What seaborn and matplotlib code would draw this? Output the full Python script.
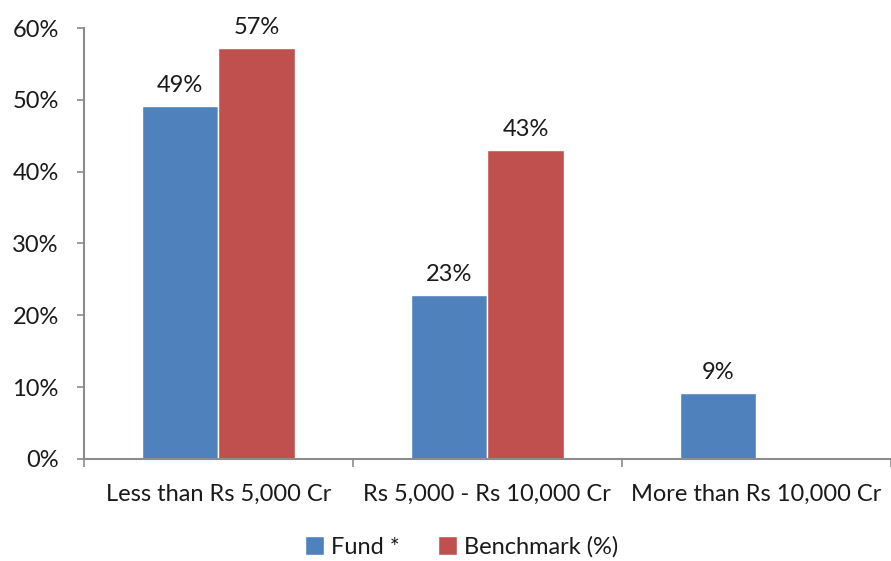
import matplotlib

matplotlib.use("Agg")

import matplotlib.pyplot as plt
from matplotlib.ticker import FixedLocator, MultipleLocator, PercentFormatter
import pandas as pd
import seaborn as sns

CATEGORIES = ["Less than Rs 5,000 Cr", "Rs 5,000 - Rs 10,000 Cr", "More than Rs 10,000 Cr"]
SERIES = ["Fund *", "Benchmark (%)"]
FUND = [49.2, 22.8, 9.2]
BENCHMARK = [57.2, 43.0, 0.0]
COLORS = ["#4F81BD", "#C0504D"]
TEXT = "#1A1A1A"
AXIS = "#8C8C8C"
FONT_SIZE = 17

sns.set_theme(style="white")
plt.rcParams["font.family"] = ["Lato", "DejaVu Sans"]

data = pd.DataFrame(
    {
        "category": CATEGORIES * 2,
        "series": [SERIES[0]] * 3 + [SERIES[1]] * 3,
        "value": FUND + BENCHMARK,
    }
)

fig = plt.figure(figsize=(8.91, 5.61), dpi=100)
ax = fig.add_axes([0.094, 0.182, 0.906, 0.768])

sns.barplot(
    data=data,
    x="category",
    y="value",
    hue="series",
    hue_order=SERIES,
    order=CATEGORIES,
    palette=COLORS,
    width=0.57,
    saturation=1,
    ax=ax,
    legend=True,
)

# value labels above bars; the empty benchmark slot gets none
for container in ax.containers:
    for bar in container:
        h = bar.get_height()
        if h <= 0:
            continue
        ax.annotate(
            f"{h:.0f}%",
            (bar.get_x() + bar.get_width() / 2, h),
            xytext=(0, 7),
            textcoords="offset points",
            ha="center",
            va="bottom",
            fontsize=FONT_SIZE,
            color=TEXT,
        )

ax.set_ylim(0, 60)
ax.set_xlim(-0.5, 2.5)
ax.yaxis.set_major_locator(MultipleLocator(10))
ax.yaxis.set_major_formatter(PercentFormatter(xmax=100, decimals=0))
ax.set_xlabel("")
ax.set_ylabel("")

for side in ["top", "right"]:
    ax.spines[side].set_visible(False)
for side in ["left", "bottom"]:
    ax.spines[side].set_color(AXIS)
    ax.spines[side].set_linewidth(1.5)

ax.tick_params(axis="y", which="major", left=True, length=5, width=1.2, color=AXIS,
               labelsize=FONT_SIZE, labelcolor=TEXT, pad=13)
ax.tick_params(axis="x", which="major", bottom=False, labelsize=FONT_SIZE, labelcolor=TEXT, pad=12)
ax.xaxis.set_minor_locator(FixedLocator([-0.5, 0.5, 1.5, 2.5]))
ax.tick_params(axis="x", which="minor", bottom=True, length=6, width=1.2, color=AXIS)

handles, labels = ax.get_legend_handles_labels()
ax.legend(
    handles,
    labels,
    loc="center",
    bbox_to_anchor=(0.518, 0.025),
    bbox_transform=fig.transFigure,
    ncol=2,
    frameon=False,
    fontsize=FONT_SIZE,
    handlelength=0.8,
    handleheight=0.8,
    handletextpad=0.3,
    columnspacing=1.6,
    labelcolor=TEXT,
)

fig.savefig("out.png", dpi=100)
